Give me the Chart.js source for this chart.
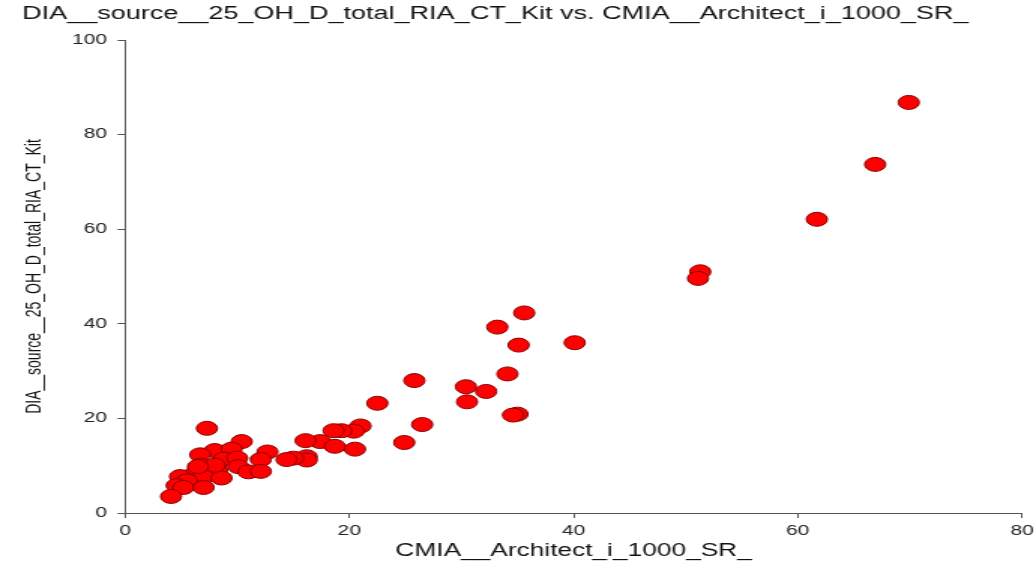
<!DOCTYPE html>
<html>
<head>
<meta charset="utf-8">
<script src="https://cdn.jsdelivr.net/npm/chart.js"></script>
<style>
  html, body { margin: 0; padding: 0; background: #fff; }
  #scatter { display: block; width: 1036px; height: 561px; }
</style>
</head>
<body>
<canvas id="scatter" width="690" height="561" style="width:1036px;height:561px"></canvas>
<script>
const chartTitle = 'DIA__source__25_OH_D_total_RIA_CT_Kit vs. CMIA__Architect_i_1000_SR_';
const xLabel = 'CMIA__Architect_i_1000_SR_';
const yLabel = 'DIA__source__25_OH_D_total_RIA_CT_Kit';

// CMIA (x) and DIA (y) values
const cmiaValues = [
    69.9, 66.9, 61.7, 51.3, 51.1, 35.6, 33.2, 40.1, 35.1, 34.1,
    25.8, 30.4, 32.2, 30.5, 22.5, 35.0, 34.6, 26.5, 24.9, 21.0,
    20.4, 19.3, 18.6, 17.4, 16.1, 18.7, 20.5, 16.2, 16.2, 15.0,
    14.4, 7.3, 10.4, 8.0, 9.5, 6.7, 8.8, 10.0, 12.7, 12.1,
    6.7, 8.2, 10.1, 6.2, 7.0, 4.9, 8.6, 11.0, 12.1, 5.5,
    4.6, 5.2, 7.0, 4.1, 8.0, 6.5
];
const diaValues = [
    86.8, 73.7, 62.1, 51.0, 49.6, 42.3, 39.3, 36.0, 35.5, 29.4,
    28.0, 26.7, 25.7, 23.5, 23.2, 20.9, 20.7, 18.7, 14.9, 18.4,
    17.3, 17.4, 17.4, 15.1, 15.3, 14.1, 13.5, 11.9, 11.2, 11.6,
    11.3, 17.9, 15.1, 13.2, 13.5, 12.3, 11.4, 11.6, 12.9, 11.3,
    10.1, 9.1, 9.8, 8.3, 7.7, 7.7, 7.4, 8.7, 8.8, 6.8,
    5.8, 5.4, 5.4, 3.5, 10.1, 9.8
];

const points = cmiaValues.map((x, i) => ({ x: x, y: diaValues[i] }));

const ctx = document.getElementById('scatter').getContext('2d');
const chart = new Chart(ctx, {
    type: 'scatter',
    data: {
        datasets: [{
            label: 'DIA vs CMIA',
            data: points,
            backgroundColor: '#ff0000',
            borderColor: '#8a0000',
            borderWidth: 1,
            pointRadius: 7,
            pointHoverRadius: 7
        }]
    },
    options: {
        responsive: false,
        devicePixelRatio: 1,
        animation: false,
        layout: {
            padding: { left: 14.7, right: 9.3, top: 0, bottom: 0 }
        },
        plugins: {
            legend: { display: false },
            tooltip: { enabled: false },
            title: {
                display: true,
                text: chartTitle,
                align: 'start',
                color: '#111',
                font: { family: 'Liberation Sans, Arial, sans-serif', size: 18, weight: 'normal', lineHeight: 1.2 },
                padding: { top: 3, bottom: 15.4 }
            }
        },
        scales: {
            x: {
                type: 'linear',
                min: 0,
                max: 80,
                afterFit: function(scale) {
                    scale.height = 48;
                    scale.paddingLeft = 0;
                    scale.paddingRight = 0; // let layout padding decide the right edge
                },
                ticks: {
                    stepSize: 20,
                    color: '#222',
                    padding: 5,
                    font: { family: 'Liberation Sans, Arial, sans-serif', size: 14 }
                },
                grid: { drawOnChartArea: false, drawTicks: true, tickLength: 5, color: '#555' },
                border: { display: true, color: '#555' },
                title: {
                    display: true,
                    text: xLabel,
                    color: '#111',
                    padding: 0,
                    font: { family: 'Liberation Sans, Arial, sans-serif', size: 17.5, lineHeight: 1.1 }
                }
            },
            y: {
                type: 'linear',
                min: 0,
                max: 100,
                afterFit: function(scale) { scale.width = 68.6; },
                ticks: {
                    stepSize: 20,
                    color: '#222',
                    padding: 7,
                    font: { family: 'Liberation Sans, Arial, sans-serif', size: 14 }
                },
                grid: { drawOnChartArea: false, drawTicks: true, tickLength: 5, color: '#555' },
                border: { display: true, color: '#555' },
                title: {
                    display: true,
                    text: yLabel,
                    color: '#111',
                    padding: 0,
                    font: { family: 'Liberation Sans, Arial, sans-serif', size: 14, lineHeight: 1.2 }
                }
            }
        }
    }
});
chart.canvas.style.width = '1036px';
chart.canvas.style.height = '561px';
</script>
</body>
</html>
